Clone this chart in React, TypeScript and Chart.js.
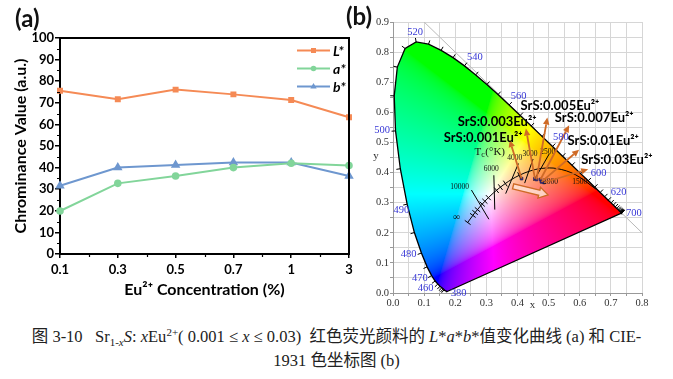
import React, { useEffect, useRef } from 'react';
import { Chart, registerables } from 'chart.js';
Chart.register(...registerables);

// ---------- Panel (a) data ----------
const concentrationLabels = ['0.1', '0.3', '0.5', '0.7', '1', '3'];
const lStarValues = [75.6, 71.6, 76.1, 73.9, 71.3, 63.3];
const aStarValues = [19.9, 32.7, 36.1, 40.0, 42.0, 41.0];
const bStarValues = [31.6, 40.0, 41.2, 42.4, 42.4, 36.1];
const seriesNames = ['L*', 'a*', 'b*'];

// ---------- Panel (b) data ----------
const locusNm = [380, 385, 390, 395, 400, 405, 410, 415, 420, 425, 430, 435, 440, 445, 450, 455, 460, 465, 470, 475, 480, 485, 490, 495, 500, 505, 510, 515, 520, 525, 530, 535, 540, 545, 550, 555, 560, 565, 570, 575, 580, 585, 590, 595, 600, 605, 610, 615, 620, 625, 630, 635, 640, 645, 650, 655, 660, 665, 670, 675, 680, 685, 690, 695, 700];
const locusX = [0.1741, 0.1740, 0.1738, 0.1736, 0.1733, 0.1730, 0.1726, 0.1721, 0.1714, 0.1703, 0.1689, 0.1669, 0.1644, 0.1611, 0.1566, 0.1510, 0.1440, 0.1355, 0.1241, 0.1096, 0.0913, 0.0687, 0.0454, 0.0235, 0.0082, 0.0039, 0.0139, 0.0389, 0.0743, 0.1142, 0.1547, 0.1929, 0.2296, 0.2658, 0.3016, 0.3373, 0.3731, 0.4087, 0.4441, 0.4788, 0.5125, 0.5448, 0.5752, 0.6029, 0.6270, 0.6482, 0.6658, 0.6801, 0.6915, 0.7006, 0.7079, 0.7140, 0.7190, 0.7230, 0.7260, 0.7283, 0.7300, 0.7311, 0.7320, 0.7327, 0.7334, 0.7340, 0.7344, 0.7346, 0.7347];
const locusY = [0.0050, 0.0050, 0.0049, 0.0049, 0.0048, 0.0048, 0.0048, 0.0048, 0.0051, 0.0058, 0.0069, 0.0086, 0.0109, 0.0138, 0.0177, 0.0227, 0.0297, 0.0399, 0.0578, 0.0868, 0.1327, 0.2007, 0.2950, 0.4127, 0.5384, 0.6548, 0.7502, 0.8120, 0.8338, 0.8262, 0.8059, 0.7816, 0.7543, 0.7243, 0.6923, 0.6589, 0.6245, 0.5896, 0.5547, 0.5202, 0.4866, 0.4544, 0.4242, 0.3965, 0.3725, 0.3514, 0.3340, 0.3197, 0.3083, 0.2993, 0.2920, 0.2859, 0.2809, 0.2770, 0.2740, 0.2717, 0.2700, 0.2689, 0.2680, 0.2673, 0.2666, 0.2660, 0.2656, 0.2654, 0.2653];

const wlLabelText = ['520', '540', '560', '580', '600', '620', '700', '500', '490', '480', '470', '460', '380'];
const wlLabelX = [0.071, 0.263, 0.404, 0.539, 0.661, 0.725, 0.774, -0.035, 0.027, 0.050, 0.086, 0.105, 0.211];
const wlLabelY = [0.867, 0.784, 0.654, 0.518, 0.399, 0.335, 0.266, 0.540, 0.275, 0.128, 0.050, 0.017, -0.002];

const planckT = [1000, 1500, 2000, 2500, 3000, 3500, 4000, 4500, 5000, 5500, 6000, 7000, 8000, 9000, 10000, 12000, 15000, 20000, Infinity];
const planckX = [0.6528, 0.5857, 0.5267, 0.4770, 0.4369, 0.4053, 0.3805, 0.3608, 0.3451, 0.3325, 0.3221, 0.3064, 0.2952, 0.2867, 0.2807, 0.2715, 0.2637, 0.2565, 0.2399];
const planckY = [0.3444, 0.3931, 0.4133, 0.4137, 0.4041, 0.3907, 0.3768, 0.3635, 0.3516, 0.3411, 0.3318, 0.3166, 0.3048, 0.2951, 0.2884, 0.2769, 0.2674, 0.2577, 0.2341];
const planckTickTemps = [3500, 4500, 5000, 5500, 7000, 8000, 9000, 12000, 15000, 20000];

const isoX1 = [0.2306, 0.252, 0.324, 0.403, 0.450, 0.502];
const isoY1 = [0.2411, 0.342, 0.391, 0.430, 0.445, 0.462];
const isoX2 = [0.2492, 0.308, 0.327, 0.362, 0.423, 0.452];
const isoY2 = [0.2271, 0.245, 0.277, 0.330, 0.365, 0.372];
const isoLabelText = ['∞', '10000', '6000', '4000', '3000', '2500', '2000', '1500'];
const isoLabelX = [0.204, 0.214, 0.316, 0.391, 0.440, 0.497, 0.506, 0.600];
const isoLabelY = [0.250, 0.351, 0.413, 0.447, 0.463, 0.468, 0.369, 0.369];

const equalLineX = [0.1, 0.8];
const equalLineY = [0.9, 0.2];

const sampleNames = ['SrS:0.001Eu²⁺', 'SrS:0.003Eu²⁺', 'SrS:0.005Eu²⁺', 'SrS:0.007Eu²⁺', 'SrS:0.01Eu²⁺', 'SrS:0.03Eu²⁺'];
const sampleX = [0.413, 0.456, 0.461, 0.474, 0.477, 0.485];
const sampleY = [0.380, 0.380, 0.377, 0.377, 0.369, 0.367];
const arrowTipX = [0.375, 0.427, 0.496, 0.566, 0.598, 0.627];
const arrowTipY = [0.508, 0.546, 0.583, 0.557, 0.476, 0.411];
const sampleLabelX = [0.163, 0.208, 0.410, 0.520, 0.561, 0.605];
const sampleLabelY = [0.517, 0.570, 0.620, 0.582, 0.507, 0.441];

const trendArrowX = [0.386, 0.498];
const trendArrowY = [0.354, 0.326];

// ---------- styles ----------
const SANS = 'Lato, "Open Sans", "DejaVu Sans", sans-serif';
const SERIF = '"Liberation Serif", "DejaVu Serif", serif';
const C_L = '#F58A55';
const C_A = '#82D59A';
const C_B = '#6E97CF';
const ARROW = '#CF6A26';
const WL_BLUE = '#3838D6';

function xyToRgb(x: number, y: number): [number, number, number] {
  const yy = Math.max(y, 0.0005);
  const X = x / yy, Y = 1, Z = (1 - x - yy) / yy;
  let r = 3.2406 * X - 1.5372 * Y - 0.4986 * Z;
  let g = -0.9689 * X + 1.8758 * Y + 0.0415 * Z;
  let b = 0.0557 * X - 0.2040 * Y + 1.0570 * Z;
  r = Math.max(0, r); g = Math.max(0, g); b = Math.max(0, b);
  const m = Math.max(r, g, b) || 1;
  const gam = (v: number) => (v <= 0.0031308 ? 12.92 * v : 1.055 * Math.pow(v, 1 / 2.4) - 0.055);
  return [gam(r / m) * 255, gam(g / m) * 255, gam(b / m) * 255];
}

const panelAPlugin = {
  id: 'panelA',
  afterDraw(chart: any) {
    const { ctx, chartArea } = chart;
    const { left, right, top, bottom } = chartArea;
    const xs = chart.scales.x, ys = chart.scales.y;
    ctx.save();
    ctx.strokeStyle = '#000';
    ctx.lineWidth = 2;
    ctx.beginPath();
    ctx.moveTo(left - 1, top);
    ctx.lineTo(right, top);
    ctx.lineTo(right, bottom + 1);
    ctx.stroke();
    ctx.lineWidth = 1.2;
    ctx.beginPath();
    for (let v = 5; v < 100; v += 10) {
      const py = Math.round(ys.getPixelForValue(v)) + 0.5;
      ctx.moveTo(left, py);
      ctx.lineTo(left - 3, py);
    }
    for (let i = 0; i < concentrationLabels.length - 1; i++) {
      const px = Math.round((xs.getPixelForValue(i) + xs.getPixelForValue(i + 1)) / 2) + 0.5;
      ctx.moveTo(px, bottom);
      ctx.lineTo(px, bottom + 3);
    }
    ctx.stroke();
    const colors = [C_L, C_A, C_B];
    const styles = ['rect', 'circle', 'triangle'];
    for (let i = 0; i < seriesNames.length; i++) {
      const yy = top + 12.5 + i * 18;
      const x0 = right - 52, x1 = right - 19, xm = (x0 + x1) / 2;
      ctx.strokeStyle = colors[i];
      ctx.fillStyle = colors[i];
      ctx.lineWidth = 2;
      ctx.beginPath();
      ctx.moveTo(x0, yy);
      ctx.lineTo(x1, yy);
      ctx.stroke();
      ctx.beginPath();
      if (styles[i] === 'rect') ctx.rect(xm - 2.5, yy - 2.5, 5, 5);
      else if (styles[i] === 'circle') ctx.arc(xm, yy, 2.8, 0, Math.PI * 2);
      else { ctx.moveTo(xm, yy - 3.5); ctx.lineTo(xm + 3.2, yy + 2); ctx.lineTo(xm - 3.2, yy + 2); ctx.closePath(); }
      ctx.fill();
      ctx.fillStyle = '#000';
      ctx.font = `italic bold 14px ${SANS}`;
      ctx.textBaseline = 'middle';
      ctx.textAlign = 'left';
      ctx.fillText(seriesNames[i], x1 + 3, yy + 0.5);
    }
    ctx.font = `bold 24px ${SANS}`;
    ctx.fillStyle = '#111';
    ctx.textBaseline = 'middle';
    ctx.fillText('(a)', 15, 19);
    ctx.restore();
  },
};

const cieFill = {
  id: 'cieFill',
  beforeDatasetsDraw(chart: any) {
    const { ctx, chartArea } = chart;
    const xs = chart.scales.x, ys = chart.scales.y;
    const l = Math.floor(chartArea.left), t = Math.floor(chartArea.top);
    const w = Math.ceil(chartArea.right) - l, h = Math.ceil(chartArea.bottom) - t;
    const off = document.createElement('canvas');
    off.width = w; off.height = h;
    const octx = off.getContext('2d') as CanvasRenderingContext2D;
    const img = octx.createImageData(w, h);
    for (let j = 0; j < h; j++) {
      const cy = ys.getValueForPixel(t + j + 0.5);
      for (let i = 0; i < w; i++) {
        const cx = xs.getValueForPixel(l + i + 0.5);
        const [r, g, b] = xyToRgb(cx, cy);
        const k = (j * w + i) * 4;
        img.data[k] = r; img.data[k + 1] = g; img.data[k + 2] = b; img.data[k + 3] = 255;
      }
    }
    octx.putImageData(img, 0, 0);
    ctx.save();
    ctx.beginPath();
    for (let i = 0; i < locusX.length; i++) {
      const px = xs.getPixelForValue(locusX[i]), py = ys.getPixelForValue(locusY[i]);
      if (i === 0) ctx.moveTo(px, py); else ctx.lineTo(px, py);
    }
    ctx.closePath();
    ctx.clip();
    ctx.drawImage(off, l, t);
    ctx.restore();
  },
  afterDatasetsDraw(chart: any) {
    const { ctx } = chart;
    const xs = chart.scales.x, ys = chart.scales.y;
    const P = (x: number, y: number) => [xs.getPixelForValue(x), ys.getPixelForValue(y)];
    ctx.save();
    const [ccx, ccy] = P(0.33, 0.33);
    ctx.strokeStyle = '#000';
    ctx.lineWidth = 1;
    ctx.beginPath();
    for (let i = 0; i < locusNm.length; i++) {
      if (locusNm[i] < 440) continue;
      const i0 = Math.max(0, i - 1), i1 = Math.min(locusNm.length - 1, i + 1);
      const [ax, ay] = P(locusX[i0], locusY[i0]);
      const [bx, by] = P(locusX[i1], locusY[i1]);
      const [px, py] = P(locusX[i], locusY[i]);
      let tx = bx - ax, ty = by - ay;
      let len = Math.hypot(tx, ty);
      if (len < 1e-6) { tx = 1; ty = 1; len = Math.SQRT2; }
      tx /= len; ty /= len;
      let nx = -ty, ny = tx;
      if ((px - ccx) * nx + (py - ccy) * ny < 0) { nx = -nx; ny = -ny; }
      ctx.moveTo(px, py);
      ctx.lineTo(px + nx * 4, py + ny * 4);
    }
    ctx.stroke();
    ctx.beginPath();
    for (const T of planckTickTemps) {
      const i = planckT.indexOf(T);
      const [ax, ay] = P(planckX[i - 1], planckY[i - 1]);
      const [bx, by] = P(planckX[i + 1], planckY[i + 1]);
      const [px, py] = P(planckX[i], planckY[i]);
      let tx = bx - ax, ty = by - ay;
      const len = Math.hypot(tx, ty);
      tx /= len; ty /= len;
      const nx = -ty * 3.5, ny = tx * 3.5;
      ctx.moveTo(px - nx, py - ny);
      ctx.lineTo(px + nx, py + ny);
    }
    ctx.stroke();
    ctx.fillStyle = '#111';
    ctx.font = `7.5px ${SERIF}`;
    ctx.textAlign = 'center';
    ctx.textBaseline = 'middle';
    for (let i = 0; i < isoLabelText.length; i++) {
      const [px, py] = P(isoLabelX[i], isoLabelY[i]);
      if (isoLabelText[i] === '∞') { ctx.font = `10px ${SERIF}`; ctx.fillText('∞', px, py); ctx.font = `7.5px ${SERIF}`; }
      else ctx.fillText(isoLabelText[i], px, py);
    }
    const [tcx, tcy] = P(0.262, 0.469);
    ctx.textAlign = 'left';
    ctx.font = `11px ${SERIF}`;
    ctx.fillText('T', tcx, tcy);
    const tw = ctx.measureText('T').width;
    ctx.font = `8px ${SERIF}`;
    ctx.fillText('c', tcx + tw, tcy + 3);
    const cw = ctx.measureText('c').width;
    ctx.font = `11px ${SERIF}`;
    ctx.fillText('(°K)', tcx + tw + cw + 0.5, tcy);
    {
      const [sx, sy] = P(trendArrowX[0], trendArrowY[0]);
      const [ex, ey] = P(trendArrowX[1], trendArrowY[1]);
      let ux = ex - sx, uy = ey - sy;
      const len = Math.hypot(ux, uy);
      ux /= len; uy /= len;
      const nx = -uy, ny = ux;
      const ws = 2.6, wh = 5.5, hl = 9;
      const hx = ex - ux * hl, hy = ey - uy * hl;
      ctx.beginPath();
      ctx.moveTo(sx + nx * ws, sy + ny * ws);
      ctx.lineTo(hx + nx * ws, hy + ny * ws);
      ctx.lineTo(hx + nx * wh, hy + ny * wh);
      ctx.lineTo(ex, ey);
      ctx.lineTo(hx - nx * wh, hy - ny * wh);
      ctx.lineTo(hx - nx * ws, hy - ny * ws);
      ctx.lineTo(sx - nx * ws, sy - ny * ws);
      ctx.closePath();
      ctx.fillStyle = 'rgba(255,226,210,0.85)';
      ctx.fill();
      ctx.strokeStyle = ARROW;
      ctx.lineWidth = 1.4;
      ctx.stroke();
    }
    for (let i = 0; i < sampleX.length; i++) {
      const [sx, sy] = P(sampleX[i], sampleY[i]);
      const [ex, ey] = P(arrowTipX[i], arrowTipY[i]);
      let ux = ex - sx, uy = ey - sy;
      const len = Math.hypot(ux, uy);
      ux /= len; uy /= len;
      const nx = -uy, ny = ux;
      const hl = 7, hw = 3.2;
      const hx = ex - ux * hl, hy = ey - uy * hl;
      ctx.strokeStyle = ARROW;
      ctx.fillStyle = ARROW;
      ctx.lineWidth = 1.8;
      ctx.beginPath();
      ctx.moveTo(sx, sy);
      ctx.lineTo(hx, hy);
      ctx.stroke();
      ctx.beginPath();
      ctx.moveTo(ex, ey);
      ctx.lineTo(hx + nx * hw, hy + ny * hw);
      ctx.lineTo(hx - nx * hw, hy - ny * hw);
      ctx.closePath();
      ctx.fill();
    }
    ctx.restore();
  },
  afterDraw(chart: any) {
    const { ctx, chartArea } = chart;
    const xs = chart.scales.x, ys = chart.scales.y;
    const P = (x: number, y: number) => [xs.getPixelForValue(x), ys.getPixelForValue(y)];
    ctx.save();
    ctx.fillStyle = WL_BLUE;
    ctx.font = `10.5px ${SERIF}`;
    ctx.textAlign = 'center';
    ctx.textBaseline = 'middle';
    for (let i = 0; i < wlLabelText.length; i++) {
      const [px, py] = P(wlLabelX[i], wlLabelY[i]);
      ctx.fillText(wlLabelText[i], px, py);
    }
    ctx.fillStyle = '#000';
    ctx.font = `bold 13px ${SANS}`;
    ctx.textAlign = 'left';
    for (let i = 0; i < sampleNames.length; i++) {
      const [px, py] = P(sampleLabelX[i], sampleLabelY[i]);
      ctx.fillText(sampleNames[i], px, py);
    }
    ctx.fillStyle = '#333';
    ctx.font = `11px ${SERIF}`;
    ctx.textAlign = 'center';
    ctx.fillText('x', xs.getPixelForValue(0.448), chartArea.bottom + 12);
    ctx.fillText('y', chartArea.left - 17, ys.getPixelForValue(0.454));
    ctx.font = `bold 24px ${SANS}`;
    ctx.fillStyle = '#111';
    ctx.textAlign = 'left';
    ctx.fillText('(b)', 6, 17);
    ctx.restore();
  },
};

export default function App() {
  const refA = useRef<HTMLCanvasElement>(null);
  const refB = useRef<HTMLCanvasElement>(null);

  useEffect(() => {
    const tickFontA = { family: SANS, weight: 'bold' as const, size: 13 };
    const titleFontA = { family: SANS, weight: 'bold' as const, size: 16 };
    const mk = (label: string, data: number[], color: string, style: string) => ({
      label, data, borderColor: color, backgroundColor: color, pointBackgroundColor: color,
      pointBorderColor: color, pointStyle: style, pointRadius: style === 'triangle' ? 3.5 : 2.8,
      borderWidth: 2, tension: 0,
    });
    const chartA = new Chart(refA.current as HTMLCanvasElement, {
      type: 'line',
      data: {
        labels: concentrationLabels,
        datasets: [
          mk(seriesNames[0], lStarValues, C_L, 'rect'),
          mk(seriesNames[1], aStarValues, C_A, 'circle'),
          mk(seriesNames[2], bStarValues, C_B, 'triangle'),
        ] as any,
      },
      options: {
        animation: false,
        responsive: false,
        layout: { padding: { left: 0, top: 38, right: 11, bottom: 0 } },
        plugins: { legend: { display: false }, tooltip: { enabled: false } },
        scales: {
          x: {
            type: 'category',
            offset: false,
            grid: { drawOnChartArea: false, drawTicks: true, tickLength: 4, color: '#000', lineWidth: 1.5 },
            border: { color: '#000', width: 2 },
            ticks: { font: tickFontA, color: '#000', padding: 4, maxRotation: 0, autoSkip: false },
            title: { display: true, text: 'Eu²⁺ Concentration (%)', font: titleFontA, color: '#000', padding: { top: 0, bottom: 11 } },
            afterFit: (s: any) => { s.height = 56; },
          },
          y: {
            min: 0, max: 100,
            grid: { drawOnChartArea: false, drawTicks: true, tickLength: 5, color: '#000', lineWidth: 1.5 },
            border: { color: '#000', width: 2 },
            ticks: { stepSize: 10, font: tickFontA, color: '#000', padding: 1 },
            title: { display: true, text: 'Chrominance Value (a.u.)', font: titleFontA, color: '#000', padding: { top: 11, bottom: 0 } },
            afterFit: (s: any) => { s.width = 60; },
          },
        },
      } as any,
      plugins: [panelAPlugin],
    });

    const tickFontB = { family: SERIF, size: 10.5 };
    const line = (data: any[], color: string, width: number, extra: any = {}) => ({
      data, showLine: true, borderColor: color, borderWidth: width, pointRadius: 0, fill: false, ...extra,
    });
    const isoSets = isoX1.map((_, i) => line([{ x: isoX1[i], y: isoY1[i] }, { x: isoX2[i], y: isoY2[i] }], '#000', 1));
    const chartB = new Chart(refB.current as HTMLCanvasElement, {
      type: 'scatter',
      data: {
        datasets: [
          { data: sampleX.map((x, i) => ({ x, y: sampleY[i] })), pointStyle: 'rect', pointRadius: 1.8, backgroundColor: '#2a2468', borderColor: '#2a2468', showLine: false },
          line(planckX.map((x, i) => ({ x, y: planckY[i] })), '#000', 1, { tension: 0.35 }),
          ...isoSets,
          line([...locusX.map((x, i) => ({ x, y: locusY[i] })), { x: locusX[0], y: locusY[0] }], '#000', 1.3),
          line(equalLineX.map((x, i) => ({ x, y: equalLineY[i] })), '#b9b9b9', 1),
        ] as any,
      },
      options: {
        animation: false,
        responsive: false,
        layout: { padding: { left: 0, top: 22, right: 31, bottom: 0 } },
        plugins: { legend: { display: false }, tooltip: { enabled: false } },
        scales: {
          x: {
            type: 'linear', min: 0, max: 0.8,
            grid: { color: '#d6d6d6', lineWidth: 1, tickLength: 3, tickColor: '#999' },
            border: { color: '#999', width: 1 },
            ticks: {
              stepSize: 0.05, autoSkip: false, maxRotation: 0, font: tickFontB, color: '#333', padding: 1,
              callback: (v: any) => (Math.round(Number(v) * 20) % 2 === 0 ? Number(v).toFixed(1) : ''),
            },
            afterFit: (s: any) => { s.height = 19; },
          },
          y: {
            type: 'linear', min: 0, max: 0.9,
            grid: { color: '#d6d6d6', lineWidth: 1, tickLength: 3, tickColor: '#999' },
            border: { color: '#999', width: 1 },
            ticks: {
              stepSize: 0.05, autoSkip: false, font: tickFontB, color: '#333', padding: 1,
              callback: (v: any) => (Math.round(Number(v) * 20) % 2 === 0 ? Number(v).toFixed(1) : ''),
            },
            afterFit: (s: any) => { s.width = 53; },
          },
        },
      } as any,
      plugins: [cieFill],
    });

    return () => { chartA.destroy(); chartB.destroy(); };
  }, []);

  const supStyle: React.CSSProperties = { fontSize: '11px', lineHeight: 0, verticalAlign: 'super' };
  const subStyle: React.CSSProperties = { fontSize: '11px', lineHeight: 0, verticalAlign: 'sub' };

  return (
    <div style={{ position: 'absolute', left: 0, top: 0, width: 673, height: 379, background: '#fff', overflow: 'hidden' }}>
      <canvas ref={refA} width={360} height={310} style={{ position: 'absolute', left: 0, top: 0, width: 360, height: 310 }} />
      <canvas ref={refB} width={333} height={312} style={{ position: 'absolute', left: 340, top: 0, width: 333, height: 312 }} />
      <div style={{ position: 'absolute', left: 0, top: 325, width: 673, textAlign: 'center', fontFamily: '"Liberation Serif", "Noto Sans CJK SC", serif', fontSize: '16.5px', lineHeight: '24px', color: '#222', whiteSpace: 'nowrap' }}>
        <div>
          图 3-10&nbsp;&nbsp;&nbsp;Sr<span style={subStyle}>1-<i>x</i></span><i>S</i>: <i>x</i>Eu<span style={supStyle}>2+</span>( 0.001 ≤ <i>x</i> ≤ 0.03)&nbsp; 红色荧光颜料的 <i>L</i>*<i>a</i>*<i>b</i>*值变化曲线 (a) 和 CIE-
        </div>
        <div>1931 色坐标图 (b)</div>
      </div>
    </div>
  );
}
